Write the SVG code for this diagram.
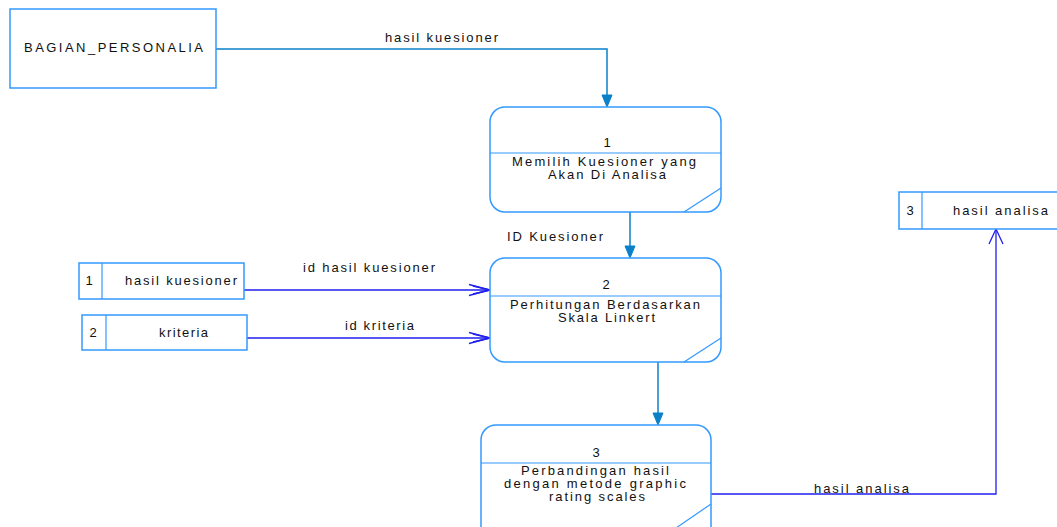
<svg xmlns="http://www.w3.org/2000/svg" width="1057" height="527" viewBox="0 0 1057 527">
<defs>
<style>
.box{fill:#ffffff;stroke:#3399ff;stroke-width:1.5}
.div{stroke:#3399ff;stroke-width:1.2;fill:none}
.t{font-family:"Liberation Sans",Arial,sans-serif;font-size:13px;fill:#111111}
.m{text-anchor:middle}
.flowA{stroke:#0a80c8;stroke-width:1.5;fill:none}
.flowB{stroke:#1f1fee;stroke-width:1.3;fill:none}
.headA{fill:#0a80c8;stroke:#0a80c8;stroke-width:1}
</style>
</defs>
<rect width="1057" height="527" fill="#ffffff"/>

<g id="connectors">
  <g id="c-hasil-kuesioner">
    <polyline class="flowA" points="216,49 607,49 607,96"/>
    <polygon class="headA" points="602,95 612,95 607,107"/>
    <text class="t" x="385" y="42" textLength="113" lengthAdjust="spacing">hasil kuesioner</text>
  </g>
  <g id="c-id-kuesioner">
    <line class="flowA" x1="630" y1="212" x2="630" y2="247"/>
    <polygon class="headA" points="625,246 635,246 630,258"/>
    <text class="t" x="507" y="241" textLength="96" lengthAdjust="spacing">ID Kuesioner</text>
  </g>
  <g id="c-id-hasil-kuesioner">
    <line class="flowB" x1="244" y1="290" x2="489" y2="290"/>
    <polyline class="flowB" points="469,284.5 490,290 469,295.5"/>
    <polyline class="flowB" points="473,286 490,290 473,294"/>
    <text class="t" x="303" y="272" textLength="132" lengthAdjust="spacing">id hasil kuesioner</text>
  </g>
  <g id="c-id-kriteria">
    <line class="flowB" x1="247" y1="338" x2="489" y2="338"/>
    <polyline class="flowB" points="469,332.5 490,338 469,343.5"/>
    <polyline class="flowB" points="473,334 490,338 473,342"/>
    <text class="t" x="345" y="330" textLength="69" lengthAdjust="spacing">id kriteria</text>
  </g>
  <g id="c-perbandingan">
    <line class="flowA" x1="658" y1="362" x2="658" y2="414"/>
    <polygon class="headA" points="653,413 663,413 658,425"/>
  </g>
  <g id="c-hasil-analisa">
    <polyline class="flowB" points="711,494 996,494 996,230"/>
    <polyline class="flowB" points="989,244 996,229 1003,244"/>
    <text class="t" x="814" y="493" textLength="95" lengthAdjust="spacing">hasil analisa</text>
  </g>
</g>

<g id="bagian-personalia">
  <rect class="box" x="10" y="9" width="206" height="79"/>
  <text class="t" x="24" y="52" textLength="179" lengthAdjust="spacing">BAGIAN_PERSONALIA</text>
</g>

<g id="proses-1">
  <rect class="box" x="490" y="107" width="231" height="105" rx="15" ry="15"/>
  <line class="div" x1="490" y1="153" x2="721" y2="153"/>
  <line class="div" x1="721" y1="188" x2="684" y2="212"/>
  <text class="t m" x="607" y="147">1</text>
  <text class="t" x="512" y="166" textLength="184" lengthAdjust="spacing">Memilih Kuesioner yang</text>
  <text class="t" x="548" y="179" textLength="118" lengthAdjust="spacing">Akan Di Analisa</text>
</g>

<g id="proses-2">
  <rect class="box" x="490" y="258" width="231" height="104" rx="15" ry="15"/>
  <line class="div" x1="490" y1="296" x2="721" y2="296"/>
  <line class="div" x1="721" y1="338" x2="684" y2="362"/>
  <text class="t m" x="606" y="289">2</text>
  <text class="t" x="510" y="309" textLength="190" lengthAdjust="spacing">Perhitungan Berdasarkan</text>
  <text class="t" x="558" y="322" textLength="97" lengthAdjust="spacing">Skala Linkert</text>
</g>

<g id="proses-3">
  <rect class="box" x="481" y="425" width="230" height="120" rx="15" ry="15"/>
  <line class="div" x1="481" y1="463" x2="711" y2="463"/>
  <line class="div" x1="711" y1="504" x2="676" y2="528"/>
  <text class="t m" x="596" y="457">3</text>
  <text class="t" x="521" y="475" textLength="148" lengthAdjust="spacing">Perbandingan hasil</text>
  <text class="t" x="504" y="488" textLength="182" lengthAdjust="spacing">dengan metode graphic</text>
  <text class="t" x="549" y="501" textLength="96" lengthAdjust="spacing">rating scales</text>
</g>

<g id="store-1">
  <rect class="box" x="79" y="263" width="165" height="36"/>
  <line class="div" x1="102" y1="263" x2="102" y2="299"/>
  <text class="t m" x="89" y="285">1</text>
  <text class="t" x="125" y="285" textLength="112" lengthAdjust="spacing">hasil kuesioner</text>
</g>

<g id="store-2">
  <rect class="box" x="82" y="315" width="165" height="35"/>
  <line class="div" x1="106" y1="315" x2="106" y2="350"/>
  <text class="t m" x="93" y="337">2</text>
  <text class="t" x="159" y="337" textLength="49" lengthAdjust="spacing">kriteria</text>
</g>

<g id="store-3">
  <rect class="box" x="899" y="192" width="170" height="37"/>
  <line class="div" x1="922" y1="192" x2="922" y2="229"/>
  <text class="t m" x="910" y="215">3</text>
  <text class="t" x="953" y="215" textLength="95" lengthAdjust="spacing">hasil analisa</text>
</g>
</svg>
